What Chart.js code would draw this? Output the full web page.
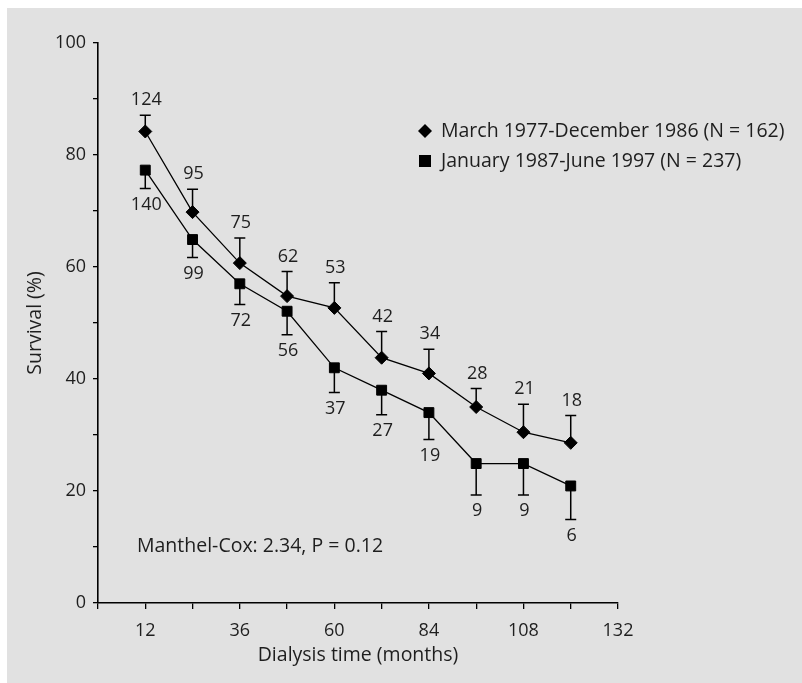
<!DOCTYPE html>
<html>
<head>
<meta charset="utf-8">
<script src="https://cdn.jsdelivr.net/npm/chart.js@4.4.1/dist/chart.umd.min.js"></script>
<style>
  html, body { margin: 0; padding: 0; background: #fff; }
  #wrap { position: absolute; left: 7px; top: 8px; width: 795px; height: 675px; background: #e1e1e1; }
  #box { position: absolute; left: 0; top: 0; width: 802px; height: 683px; }
</style>
</head>
<body>
<div id="wrap"></div>
<div id="box"><canvas id="chart" width="802" height="683"></canvas></div>
<script>
// dialysis time (months)
const months = [12, 24, 36, 48, 60, 72, 84, 96, 108, 120];

// March 1977 - December 1986
const survivalEarly = [84.2, 69.8, 60.7, 54.8, 52.7, 43.8, 41.0, 35.0, 30.5, 28.6];
const upperEarly = [87.1, 73.9, 65.2, 59.2, 57.2, 48.5, 45.3, 38.3, 35.5, 33.5];
const countsEarly = [124, 95, 75, 62, 53, 42, 34, 28, 21, 18];

// January 1987 - June 1997
const survivalLate = [77.3, 64.9, 57.0, 52.1, 42.0, 38.0, 34.0, 24.9, 24.9, 20.9];
const lowerLate = [74.0, 61.7, 53.3, 47.9, 37.6, 33.6, 29.2, 19.3, 19.3, 14.9];
const countsLate = [140, 99, 72, 56, 37, 27, 19, 9, 9, 6];

const seriesLabels = [
  "March 1977-December 1986 (N = 162)",
  "January 1987-June 1997 (N = 237)",
];
const xTickLabels = [12, 36, 60, 84, 108, 132];
const yTickLabels = [0, 20, 40, 60, 80, 100];
const noteText = "Manthel-Cox: 2.34, P = 0.12";

const FONT = "'Open Sans', 'Noto Sans', sans-serif";
const INK = "#1e1e1e";
const NUM_SIZE = 18;
const TEXT_SIZE = 19.5;

const extras = {
  id: "extras",
  beforeDatasetsDraw(chart) {
    const ctx = chart.ctx;
    const xs = chart.scales.x;
    const ys = chart.scales.y;
    ctx.save();
    ctx.strokeStyle = "#000";
    ctx.lineWidth = 1.5;
    const cap = 5.5;
    const bar = (m, a, b) => {
      const x = xs.getPixelForValue(m);
      const y1 = ys.getPixelForValue(a);
      const y2 = ys.getPixelForValue(b);
      ctx.beginPath();
      ctx.moveTo(x, y1);
      ctx.lineTo(x, y2);
      ctx.moveTo(x - cap, y2);
      ctx.lineTo(x + cap, y2);
      ctx.stroke();
    };
    months.forEach((m, i) => {
      bar(m, survivalEarly[i], upperEarly[i]);
      bar(m, survivalLate[i], lowerLate[i]);
    });
    ctx.restore();
  },
  afterDatasetsDraw(chart) {
    const ctx = chart.ctx;
    const xs = chart.scales.x;
    const ys = chart.scales.y;
    ctx.save();
    ctx.fillStyle = INK;
    ctx.font = NUM_SIZE + "px " + FONT;
    ctx.textAlign = "center";
    ctx.textBaseline = "middle";
    months.forEach((m, i) => {
      const x = xs.getPixelForValue(m);
      ctx.fillText(String(countsEarly[i]), x + 1, ys.getPixelForValue(upperEarly[i]) - 15);
      ctx.fillText(String(countsLate[i]), x + 1, ys.getPixelForValue(lowerLate[i]) + 16);
    });

    // note
    ctx.font = TEXT_SIZE + "px " + FONT;
    ctx.textAlign = "left";
    ctx.fillText(noteText, 137, 546);

    // legend
    const lx = 425;
    const rows = [131, 161];
    ctx.fillStyle = "#000";
    ctx.beginPath();
    ctx.moveTo(lx - 7, rows[0]);
    ctx.lineTo(lx, rows[0] - 7);
    ctx.lineTo(lx + 7, rows[0]);
    ctx.lineTo(lx, rows[0] + 7);
    ctx.closePath();
    ctx.fill();
    ctx.fillRect(lx - 6, rows[1] - 6, 12, 12);
    ctx.fillStyle = INK;
    seriesLabels.forEach((t, i) => ctx.fillText(t, 441, rows[i]));
    ctx.restore();
  },
};

new Chart(document.getElementById("chart"), {
  type: "line",
  data: {
    datasets: [
      {
        label: seriesLabels[0],
        data: months.map((m, i) => ({ x: m, y: survivalEarly[i] })),
        borderColor: "#000",
        borderWidth: 1.3,
        pointStyle: "rectRot",
        pointRadius: 6.5,
        pointBackgroundColor: "#000",
        pointBorderColor: "#000",
        pointBorderWidth: 1,
        tension: 0,
      },
      {
        label: seriesLabels[1],
        data: months.map((m, i) => ({ x: m, y: survivalLate[i] })),
        borderColor: "#000",
        borderWidth: 1.3,
        pointStyle: "rect",
        pointRadius: 7,
        pointBackgroundColor: "#000",
        pointBorderColor: "#000",
        pointBorderWidth: 1,
        tension: 0,
      },
    ],
  },
  options: {
    responsive: false,
    animation: false,
    layout: { padding: { left: 0, top: 43, right: 184, bottom: 0 } },
    plugins: { legend: { display: false }, tooltip: { enabled: false } },
    scales: {
      x: {
        type: "linear",
        min: 0,
        max: 132,
        afterFit: (s) => { s.height = 80; },
        border: { display: true, color: "#000", width: 1.6 },
        grid: { drawOnChartArea: false, drawTicks: true, tickLength: 6, color: "#000", lineWidth: 1.3 },
        ticks: {
          stepSize: 12,
          autoSkip: false,
          maxRotation: 0,
          padding: 11,
          color: INK,
          font: { family: FONT, size: NUM_SIZE },
          callback: (v) => (xTickLabels.includes(v) ? String(v) : ""),
        },
        title: {
          display: true,
          text: "Dialysis time (months)",
          color: INK,
          font: { family: FONT, size: TEXT_SIZE },
          padding: { top: 0, bottom: 16 },
        },
      },
      y: {
        min: 0,
        max: 100,
        afterFit: (s) => { s.width = 98; },
        border: { display: true, color: "#000", width: 1.6 },
        grid: { drawOnChartArea: false, drawTicks: true, tickLength: 5, color: "#000", lineWidth: 1.3 },
        ticks: {
          stepSize: 10,
          autoSkip: false,
          padding: 7,
          color: INK,
          font: { family: FONT, size: NUM_SIZE },
          callback: (v) => (yTickLabels.includes(v) ? String(v) : ""),
        },
        title: {
          display: true,
          text: "Survival (%)",
          color: INK,
          font: { family: FONT, size: TEXT_SIZE },
          padding: { top: 24, bottom: 0 },
        },
      },
    },
  },
  plugins: [extras],
});
</script>
</body>
</html>
